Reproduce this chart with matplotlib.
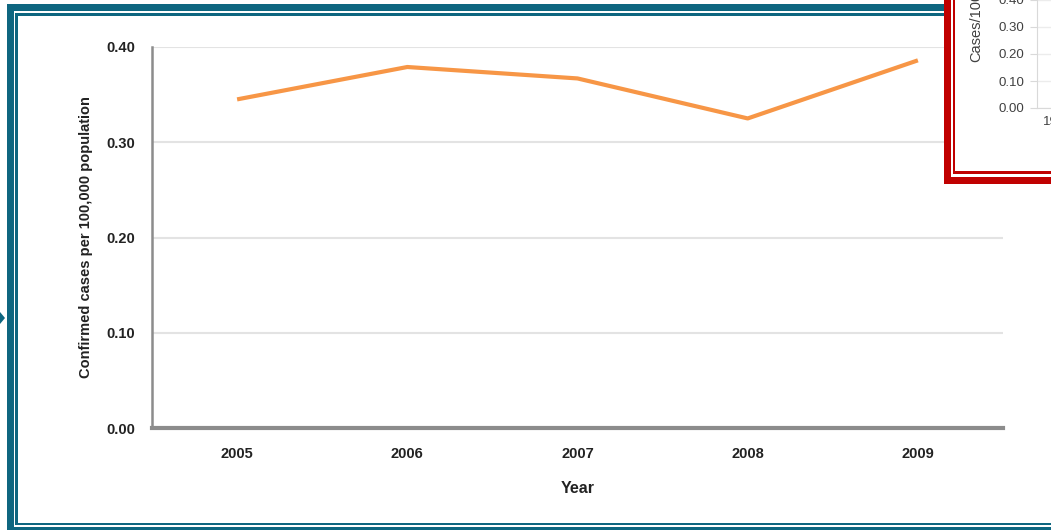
import matplotlib
matplotlib.use("Agg")
import matplotlib.pyplot as plt
from matplotlib.patches import Rectangle, Polygon

# data
years = ["2005", "2006", "2007", "2008", "2009"]
rates = [0.345, 0.379, 0.367, 0.325, 0.386]
y_ticks = [0.0, 0.1, 0.2, 0.3, 0.4]

# inset (partly hidden at top right)
inset_ticks = [0.0, 0.1, 0.2, 0.3, 0.4]

W, H = 1051, 530
TEAL = "#0e6680"
RED = "#c00000"

plt.rcParams["font.family"] = ["Liberation Sans", "DejaVu Sans"]

fig = plt.figure(figsize=(W / 100, H / 100), dpi=100)
fig.patch.set_facecolor("white")


def box(l, t, r, b):
    # pixel box -> figure fraction [left, bottom, width, height]
    return [l / W, (H - b) / H, (r - l) / W, (b - t) / H]


# main chart
ax = fig.add_axes(box(152, 47, 1003, 428), zorder=1)
x = range(len(years))
ax.plot(x, rates, color="#f79646", lw=3, solid_capstyle="butt", zorder=3)
ax.set_xlim(-0.5, len(years) - 0.5)
ax.set_ylim(0, 0.40)
ax.set_yticks(y_ticks)
ax.set_yticklabels([f"{v:.2f}" for v in y_ticks])
ax.set_xticks(list(x))
ax.set_xticklabels(years)
ax.grid(axis="y", color="#e3e3e3", lw=1.5)
ax.set_axisbelow(True)
for s in ["top", "right"]:
    ax.spines[s].set_visible(False)
ax.spines["left"].set_color("#8c8c8c")
ax.spines["left"].set_linewidth(1.8)
ax.spines["bottom"].set_color("#8c8c8c")
ax.spines["bottom"].set_linewidth(3)
ax.tick_params(length=0, labelsize=10.5, colors="#222222", pad=14)
ax.tick_params(axis="y", pad=12)
for lab in ax.get_xticklabels() + ax.get_yticklabels():
    lab.set_fontweight("bold")
ax.set_xlabel("Year", fontsize=11.5, fontweight="bold", color="#222222", labelpad=14)
ax.set_ylabel("Confirmed cases per 100,000 population", fontsize=10.5,
              fontweight="bold", color="#222222", labelpad=10)

# frame overlay in pixel coordinates
fr = fig.add_axes([0, 0, 1, 1], zorder=5)
fr.set_xlim(0, W)
fr.set_ylim(H, 0)
fr.axis("off")
fr.patch.set_alpha(0)

# teal double border (right side runs off the picture)
fr.add_patch(Rectangle((7, 4), 1100, 7, color=TEAL, lw=0))
fr.add_patch(Rectangle((7, 4), 7, 600, color=TEAL, lw=0))
fr.add_patch(Rectangle((7, 527), 1100, 7, color=TEAL, lw=0))
fr.add_patch(Rectangle((15, 13), 1100, 2.5, color=TEAL, lw=0))
fr.add_patch(Rectangle((15, 13), 2.5, 512, color=TEAL, lw=0))
fr.add_patch(Rectangle((15, 522.5), 1100, 2.5, color=TEAL, lw=0))
fr.add_patch(Polygon([(0, 312), (5, 318), (0, 324)], closed=True, color=TEAL, lw=0))

# inset panel with red double border
fr.add_patch(Rectangle((944, -10), 200, 194, color="white", lw=0))
fr.add_patch(Rectangle((944, -10), 7, 194, color=RED, lw=0))
fr.add_patch(Rectangle((944, 177), 200, 7, color=RED, lw=0))
fr.add_patch(Rectangle((952.5, -10), 2.5, 183, color=RED, lw=0))
fr.add_patch(Rectangle((952.5, 171), 200, 2.5, color=RED, lw=0))

# inset axes, only its left edge shows
inset_top = 108 - 0.47 * 270
ins = fig.add_axes(box(1037, inset_top, 1200, 108), zorder=6)
ins.patch.set_alpha(0)
ins.set_ylim(0, 0.47)
ins.set_xlim(0, 1)
ins.set_yticks(inset_ticks)
ins.set_yticklabels([f"{v:.2f}" for v in inset_ticks])
ins.set_xticks([0.125])
ins.set_xticklabels(["1999"])
ins.grid(axis="y", color="#ececec", lw=1)
for s in ["top", "right"]:
    ins.spines[s].set_visible(False)
ins.spines["left"].set_color("#d9d9d9")
ins.spines["bottom"].set_color("#d9d9d9")
ins.tick_params(labelsize=9.5, colors="#404040", length=5, width=0.8)
ins.tick_params(axis="y", color="#d9d9d9", pad=4)
ins.tick_params(axis="x", length=0, pad=6)
fr.text(976, 62, "Cases/100,000", rotation=90, ha="center", va="bottom",
        fontsize=10.5, color="#404040", zorder=7)

fig.savefig("out.png", dpi=100)
